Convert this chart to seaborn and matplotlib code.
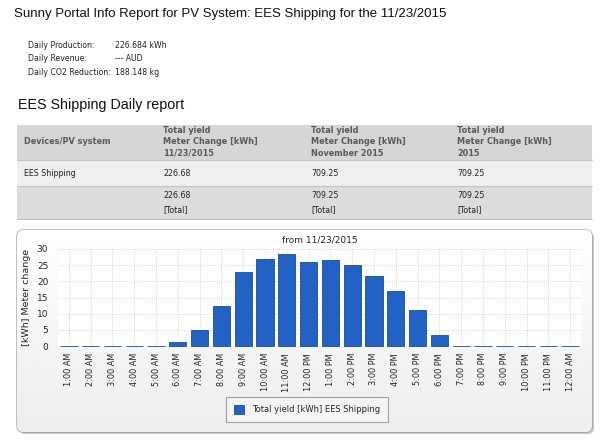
import numpy as np
import pandas as pd
import matplotlib
matplotlib.use("Agg")
import matplotlib.pyplot as plt
from matplotlib.patches import Rectangle, FancyBboxPatch
import seaborn as sns

hours = ["1:00 AM", "2:00 AM", "3:00 AM", "4:00 AM", "5:00 AM", "6:00 AM",
         "7:00 AM", "8:00 AM", "9:00 AM", "10:00 AM", "11:00 AM", "12:00 PM",
         "1:00 PM", "2:00 PM", "3:00 PM", "4:00 PM", "5:00 PM", "6:00 PM",
         "7:00 PM", "8:00 PM", "9:00 PM", "10:00 PM", "11:00 PM", "12:00 AM"]
yield_kwh = [0.1, 0.1, 0.1, 0.1, 0.1, 1.2,
             4.8, 12.5, 23.0, 26.8, 28.3, 26.1,
             26.5, 25.2, 21.6, 17.1, 11.2, 3.5,
             0.1, 0.1, 0.1, 0.1, 0.1, 0.1]

summary_labels = ["Daily Production:", "Daily Revenue:", "Daily CO2 Reduction:"]
summary_values = ["226.684 kWh", "--- AUD", "188.148 kg"]

table_headers = ["Devices/PV system",
                 "Total yield\nMeter Change [kWh]\n11/23/2015",
                 "Total yield\nMeter Change [kWh]\nNovember 2015",
                 "Total yield\nMeter Change [kWh]\n2015"]
device_row = ["EES Shipping", "226.68", "709.25", "709.25"]
total_row = ["", "226.68", "709.25", "709.25"]

sns.set_theme(style="white")
plt.rcParams["font.family"] = ["DejaVu Sans"]

W, H = 600, 445
fig = plt.figure(figsize=(W / 100, H / 100), dpi=100)
fig.patch.set_facecolor("white")

# overlay axes in pixel coordinates for the report text, table and panel
bg = fig.add_axes([0, 0, 1, 1])
bg.set_xlim(0, W)
bg.set_ylim(H, 0)
bg.axis("off")

bg.text(14, 14, "Sunny Portal Info Report for PV System: EES Shipping for the 11/23/2015",
        fontsize=9.55, color="#111111", va="center", family="Liberation Sans")

for i, (lab, val) in enumerate(zip(summary_labels, summary_values)):
    y = 45 + i * 13.8
    bg.text(27.5, y, lab, fontsize=5.6, va="center", color="#222222")
    bg.text(115, y, val, fontsize=5.6, va="center", color="#222222")

bg.text(17.5, 105, "EES Shipping Daily report", fontsize=10.3, va="center",
        color="#111111", family="Liberation Sans")

# table
tx0, tx1 = 17, 592
bg.add_patch(Rectangle((tx0, 124.5), tx1 - tx0, 35.5, facecolor="#d6d6d6", edgecolor="none"))
bg.add_patch(Rectangle((tx0, 160), tx1 - tx0, 26, facecolor="#efefef", edgecolor="none"))
bg.add_patch(Rectangle((tx0, 186), tx1 - tx0, 32.5, facecolor="#dcdcdc", edgecolor="none"))
bg.plot([tx0, tx1], [160, 160], color="#c4c4c4", lw=0.8)
bg.plot([tx0, tx1], [186, 186], color="#c4c4c4", lw=0.8)
bg.plot([tx0, tx1], [218.5, 218.5], color="#bcbcbc", lw=0.8)

col_x = [24, 163, 311, 457]
for x, head in zip(col_x, table_headers):
    bg.text(x, 142, head, fontsize=5.9, fontweight="bold", color="#5a5a5a",
            va="center", linespacing=1.3)
for x, val in zip(col_x, device_row):
    bg.text(x, 173, val, fontsize=5.7, color="#222222", va="center")
for x, val in zip(col_x, total_row):
    if val:
        bg.text(x, 195, val, fontsize=5.7, color="#222222", va="center")
        bg.text(x, 210, "[Total]", fontsize=5.7, color="#222222", va="center")

# chart panel with soft gradient
shadow = FancyBboxPatch((19, 232), 575, 202, boxstyle="round,pad=0,rounding_size=6",
                        facecolor="#c8c8c8", edgecolor="none")
bg.add_patch(shadow)
panel = FancyBboxPatch((17, 230), 575, 202, boxstyle="round,pad=0,rounding_size=6",
                       facecolor="white", edgecolor="#9a9a9a", lw=0.9)
bg.add_patch(panel)
grad = np.linspace(1.0, 0.93, 100).reshape(-1, 1)
im = bg.imshow(grad, cmap="gray", vmin=0, vmax=1, extent=(17, 592, 432, 230),
               aspect="auto", zorder=1)
im.set_clip_path(panel)
bg.set_xlim(0, W)
bg.set_ylim(H, 0)

bg.text(320, 240, "from 11/23/2015", fontsize=6.5, ha="center", va="center",
        color="#222222", zorder=3)

# bar chart
ax = fig.add_axes([58 / W, 1 - 346 / H, (581 - 58) / W, (346 - 249) / H])
ax.set_facecolor("white")
df = pd.DataFrame({"hour": hours, "kwh": yield_kwh})
sns.barplot(data=df, x="hour", y="kwh", ax=ax, color="#2262c4", width=0.79,
            edgecolor="#1a4c9c", linewidth=0.6, saturation=1,
            label="Total yield [kWh] EES Shipping", zorder=3)
for bar in ax.patches:
    bar.set_clip_on(False)
ax.set_ylim(0, 30)
ax.set_xlim(-0.5, len(hours) - 0.5)
ax.set_yticks(range(0, 31, 5))
ax.grid(True, color="#c8c8c8", linestyle=(0, (1, 1.5)), linewidth=0.6, zorder=0)
ax.set_axisbelow(True)
for s in ax.spines.values():
    s.set_visible(False)
ax.tick_params(axis="x", rotation=90, labelsize=5.9, colors="#222222", length=0, pad=5)
ax.tick_params(axis="y", labelsize=6.5, colors="#222222", length=0, pad=7)
ax.set_xlabel("")
ax.set_ylabel("[kWh] Meter change", fontsize=6.8, color="#222222", labelpad=4)

leg = ax.legend(loc="center", bbox_to_anchor=(307 / W, 1 - 409.5 / H),
                bbox_transform=fig.transFigure, fontsize=6.0, frameon=True,
                fancybox=False, handlelength=1.2, handleheight=1.2,
                borderpad=0.9, handletextpad=1.0, borderaxespad=0)
leg.get_frame().set_edgecolor("#8c8c8c")
leg.get_frame().set_facecolor("#f6f6f6")
leg.get_frame().set_linewidth(0.8)

fig.savefig("out.png", dpi=100)
